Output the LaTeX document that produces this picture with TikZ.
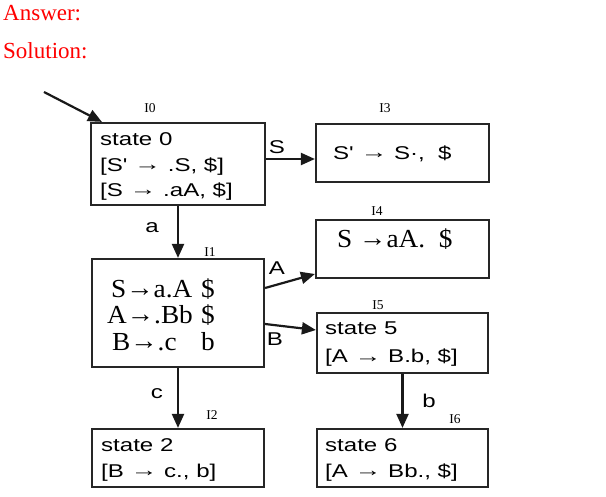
\documentclass[tikz,border=0pt]{standalone}
\usepackage{fontspec}
\setmainfont{Liberation Serif}
\newfontfamily\boxsans[FakeStretch=1.3]{Liberation Sans}
\newfontfamily\boxserif[FakeStretch=1.05]{Liberation Serif}
\usetikzlibrary{arrows.meta}
\newcommand\sarr{\raisebox{1pt}{→}}
\newcommand\tarr{\raisebox{1pt}{\scalebox{1.12}[1]{→}}}
\tikzset{
 box/.style={draw=black!85, line width=2.2pt, inner sep=0pt, rectangle},
 txt/.style={anchor=base west, inner sep=0pt, font=\boxsans\fontsize{18.5}{22}\selectfont},
 ser/.style={anchor=base west, inner sep=0pt, font=\boxserif\fontsize{26}{27}\selectfont},
 idx/.style={inner sep=0pt, font=\fontsize{13.5}{14}\selectfont},
 elab/.style={inner sep=0pt, font=\boxsans\fontsize{18.5}{22}\selectfont},
 edge/.style={draw=black!90, line width=2.2pt, -{Triangle[length=14pt,width=12pt]}},
 hdr/.style={anchor=base west, inner sep=0pt, text=red, font=\fontsize{23}{26}\selectfont}
}
\begin{document}
\begin{tikzpicture}[x=1pt,y=-1pt]
\useasboundingbox (0,0) rectangle (606,497);
% headers
\node[hdr] (ans) at (3,21) {Answer:};
\node[hdr] (sol) at (3,59) {Solution:};
% boxes
\node[box, minimum width=174pt, minimum height=82pt] (b0) at (178,164) {};
\node[box, minimum width=173pt, minimum height=58pt] (b3) at (402.5,153) {};
\node[box, minimum width=173pt, minimum height=58pt] (b4) at (402.5,249) {};
\node[box, minimum width=172pt, minimum height=108pt] (b1) at (178,313) {};
\node[box, minimum width=171pt, minimum height=60pt] (b5) at (402.5,343) {};
\node[box, minimum width=172pt, minimum height=58pt] (b2) at (178,458) {};
\node[box, minimum width=171pt, minimum height=58pt] (b6) at (402.5,458) {};
% box texts
\node[txt] (t0a) at (100,146) {state 0};
\node[txt] (t0b) at (100,172) {[S' \tarr\ .S, \$]};
\node[txt] (t0c) at (100,197) {[S \tarr\ .aA, \$]};
\node[txt] (t3) at (333,160) {S' \tarr\ S·,\ \ \$};
\node[ser] (t4) at (337,248) {S \sarr aA.\ \ \$};
\node[ser] (t1a) at (111,298) {S\sarr a.A};
\node[ser] (t1b) at (107,324) {A\sarr .Bb};
\node[ser] (t1c) at (112,351) {B\sarr .c};
\node[ser] (t1d) at (201,298) {\$};
\node[ser] (t1e) at (201,324) {\$};
\node[ser] (t1f) at (201,351) {b};
\node[txt] (t5a) at (325,335) {state 5};
\node[txt] (t5b) at (325,363) {[A \tarr\ B.b, \$]};
\node[txt] (t2a) at (101,452) {state 2};
\node[txt] (t2b) at (101,478) {[B \tarr\ c., b]};
\node[txt] (t6a) at (325,452) {state 6};
\node[txt] (t6b) at (325,478) {[A \tarr\ Bb., \$]};
% index labels
\node[idx] (i0) at (150,108) {I0};
\node[idx] (i3) at (385,108) {I3};
\node[idx] (i4) at (377,211) {I4};
\node[idx] (i1) at (210,252) {I1};
\node[idx] (i5) at (378,305) {I5};
\node[idx] (i2) at (212,415) {I2};
\node[idx] (i6) at (455,419) {I6};
% connectors
\coordinate (init) at (44,92);
\draw[edge] (init) -- ([xshift=12pt]b0.north west);
\draw[edge] (b0.east |- 0,159) -- (b3.west |- 0,159);
\draw[edge] (b0) -- (b1);
\draw[edge] (b1.east |- 0,288) -- (b4.west |- 0,274);
\draw[edge] (b1.east |- 0,324) -- (b5.west |- 0,330);
\draw[edge] (b1) -- (b2);
\draw[edge] (b5) -- (b6);
% edge labels
\node[elab] (ls) at (277,147) {S};
\node[elab] (la) at (152,228) {a};
\node[elab] (lA) at (277,268) {A};
\node[elab] (lB) at (275,339) {B};
\node[elab] (lc) at (157,394) {c};
\node[elab] (lb) at (429,401) {b};
\end{tikzpicture}
\end{document}
